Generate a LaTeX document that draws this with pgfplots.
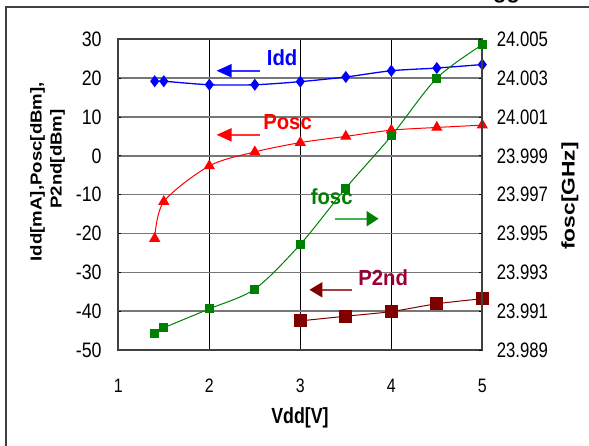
\documentclass[border=0pt]{standalone}
\usepackage{fontspec}
\setmainfont{Liberation Sans}
\usepackage{pgfplots}
\pgfplotsset{compat=1.18}
\usetikzlibrary{arrows.meta}
\definecolor{cIdd}{HTML}{0000FF}
\definecolor{cIddL}{HTML}{3333FF}
\definecolor{cPosc}{HTML}{FF0000}
\definecolor{cPoscL}{HTML}{FF3333}
\definecolor{cFosc}{HTML}{008000}
\definecolor{cFoscL}{HTML}{4CAF50}
\definecolor{cP2}{HTML}{800000}
\definecolor{cP2L}{HTML}{A04040}
\definecolor{cP2T}{HTML}{990033}
\definecolor{frameC}{HTML}{404040}
\definecolor{hgrid}{HTML}{777777}
\pgfplotsset{
  base/.style={
    at={(118.3bp,96bp)}, anchor=south west, scale only axis,
    width=364bp, height=310.7bp,
    xmin=1, xmax=5, clip=false,
    axis line style={frameC, line width=1.8bp},
    tick style={black, line width=0.8bp},
    major tick length=3bp,
    ticklabel style={font=\fontsize{21}{24}\selectfont, inner sep=0pt},
    /pgf/number format/assume math mode=true,
  },
}
\tikzset{
  note/.style={font=\fontsize{21.9}{24}\selectfont\bfseries, xscale=0.93, inner sep=0pt},
  arr/.style={line width=2bp},
}

\begin{document}
\begin{tikzpicture}[x=1bp,y=1bp]
\useasboundingbox (0,0) rectangle (589,446);
\draw[frameC, line width=2bp] (5.6,-10) -- (5.6,438.5) -- (600,438.5);
\node[anchor=base west, font=\fontsize{22}{24}\selectfont\bfseries, inner sep=0pt] at (493,447) {gg};

\begin{axis}[base,
    ymin=-50, ymax=30,
    xtick={1,2,3,4,5}, ytick={-50,-40,-30,-20,-10,0,10,20,30},
    xtick pos=bottom, ytick pos=left,
    xmajorgrids, ymajorgrids,
    x grid style={black, line width=1.1bp},
    y grid style={hgrid, line width=1.6bp},
    xticklabel shift=28.5bp, yticklabel shift=16.6bp,
    xticklabel style={font=\fontsize{19.5}{22}\selectfont, xscale=0.82, anchor=north},
    yticklabel style={xscale=0.85, anchor=east},
  ]
  % Idd
  \addplot[cIdd, line width=1.3bp, smooth, tension=0.5, mark=diamond*,
    mark size=5bp]
    coordinates {(1.4,19.2) (1.5,19.2) (2,18.3) (2.5,18.3) (3,19.1)
      (3.5,20.3) (4,21.9) (4.5,22.6) (5,23.5)};
  % Posc
  \addplot[cPosc, line width=1bp, smooth, tension=0.5, mark=triangle*,
    mark size=5.5bp]
    coordinates {(1.4,-21.3) (1.5,-11.8) (2,-2.6) (2.5,1.0) (3,3.4)
      (3.5,5.0) (4,6.6) (4.5,7.3) (5,7.9)};
  % P2nd
  \addplot[cP2, line width=1bp, smooth, tension=0.5, mark=square*,
    mark size=6bp]
    coordinates {(3,-42.5) (3.5,-41.3) (4,-40.1) (4.5,-38.1) (5,-36.8)};

  \draw[arr, cIddL, -{Triangle[length=15bp,width=13bp,color=cIdd]}]
    (axis cs:2.56,21.9) -- (axis cs:2.08,21.9);
  \node[note, cIdd] at (axis cs:2.80,25.2) {Idd};
  \draw[arr, cPoscL, -{Triangle[length=15bp,width=13bp,color=cPosc]}]
    (axis cs:2.56,5.4) -- (axis cs:2.08,5.4);
  \node[note, cPosc] at (axis cs:2.86,8.7) {Posc};
  \draw[arr, cFoscL, -{Triangle[length=12bp,width=15bp,color=cFosc]}]
    (axis cs:3.38,-16.2) -- (axis cs:3.86,-16.2);
  \node[note, cFosc] at (axis cs:3.345,-10.6) {fosc};
  \draw[arr, cP2L, -{Triangle[length=13bp,width=15bp,color=cP2]}]
    (axis cs:3.565,-34.5) -- (axis cs:3.10,-34.5);
  \node[note, cP2T] at (axis cs:3.91,-31.3) {P2nd};
\end{axis}

\begin{axis}[base,
    ymin=23.989, ymax=24.005,
    axis x line=none, axis y line*=right,
    ytick={23.989,23.991,23.993,23.995,23.997,23.999,24.001,24.003,24.005},
    scaled y ticks=false,
    yticklabel shift=14.4bp,
    yticklabel style={xscale=0.8, anchor=west,
      /pgf/number format/.cd, fixed, fixed zerofill, precision=3},
  ]
  % fosc
  \addplot[cFosc, line width=1bp, smooth, tension=0.5, mark=square*,
    mark size=4bp]
    coordinates {(1.4,23.98984) (1.5,23.99014) (2,23.99112) (2.5,23.99214)
      (3,23.99444) (3.5,23.99734) (4,24.00002) (4.5,24.003) (5,24.00472)};
\end{axis}

\node[font=\fontsize{22}{24}\selectfont\bfseries, xscale=0.81, inner sep=0pt]
  at (300,28.5) {Vdd[V]};
\node[font=\fontsize{18.7}{20}\selectfont\bfseries, rotate=90, yscale=0.85, inner sep=0pt]
  at (37.5,274.3) {Idd[mA],Posc[dBm],};
\node[font=\fontsize{18.7}{20}\selectfont\bfseries, rotate=90, yscale=0.85, inner sep=0pt]
  at (57.5,287) {P2nd[dBm]};
\node[font=\fontsize{22.9}{24}\selectfont\bfseries, rotate=90, yscale=0.8, inner sep=0pt]
  at (570,250) {fosc[GHz]};
\end{tikzpicture}
\end{document}
